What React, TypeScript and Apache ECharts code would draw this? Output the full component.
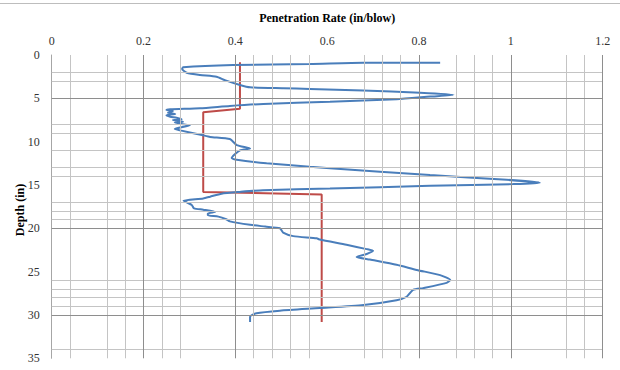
import React, { useEffect, useRef } from "react";
import * as echarts from "echarts";

// Measured penetration rate (in/blow) vs depth (in)
const rateDepth = [
  0.89, 0.89, 1.04, 1.15, 1.42, 1.62, 2.04, 2.3, 2.5, 2.9, 3.46, 3.73, 3.84, 3.92, 4.1, 4.35, 4.6,
  4.8, 5.1, 5.39, 5.65, 5.88, 6.15, 6.27, 6.35, 6.46, 6.66, 6.8, 6.96, 7.12, 7.23, 7.42, 7.5, 7.7,
  7.8, 7.96, 8.12, 8.54, 8.7, 9.23, 9.45, 9.7, 10.4, 10.8, 11.0, 11.9, 12.1, 12.5, 12.9, 13.07,
  13.85, 14.4, 14.73, 14.9, 15.1, 15.4, 15.6, 15.8, 16.0, 16.35, 16.55, 16.8, 17.0, 17.3, 17.7,
  17.85, 18.1, 18.3, 18.5, 18.65, 18.95, 19.2, 19.6, 19.8, 20.0, 20.5, 20.9, 21.15, 21.3, 21.9,
  22.4, 22.6, 22.96, 23.3, 23.6, 24.2, 24.8, 25.4, 25.96, 26.3, 26.9, 27.1, 27.9, 28.3, 28.85,
  29.2, 29.5, 29.8, 30.2, 30.8,
];
const rateValue = [
  0.846, 0.678, 0.563, 0.395, 0.286, 0.284, 0.294, 0.323, 0.359, 0.377, 0.41, 0.432, 0.504, 0.562,
  0.678, 0.802, 0.875, 0.824, 0.751, 0.606, 0.461, 0.388, 0.323, 0.258, 0.25, 0.264, 0.253, 0.269,
  0.25, 0.258, 0.272, 0.283, 0.264, 0.286, 0.268, 0.283, 0.301, 0.268, 0.28, 0.327, 0.345, 0.388,
  0.403, 0.432, 0.41, 0.392, 0.403, 0.468, 0.562, 0.606, 0.824, 0.991, 1.063, 1.005, 0.824, 0.606,
  0.46, 0.41, 0.37, 0.345, 0.33, 0.287, 0.294, 0.305, 0.31, 0.33, 0.356, 0.34, 0.34, 0.363, 0.38,
  0.388, 0.432, 0.465, 0.497, 0.504, 0.526, 0.577, 0.584, 0.642, 0.686, 0.7, 0.686, 0.664, 0.693,
  0.751, 0.795, 0.846, 0.868, 0.86, 0.809, 0.787, 0.773, 0.751, 0.679, 0.584, 0.497, 0.446, 0.432,
  0.432,
];

// Average rate per layer (step line)
const avgDepth = [0.85, 6.2, 6.6, 15.8, 16.1, 30.8];
const avgValue = [0.41, 0.41, 0.33, 0.33, 0.588, 0.588];

// Gridlines as drawn in the reference
const xMajorLines = [0.2, 0.4, 0.8, 1.0, 1.2];
const xMinorLines = [0.04, 0.12, 0.16, 0.24, 0.28, 0.44, 0.48, 0.52, 0.56, 0.68, 0.72, 0.76, 0.88, 0.92, 0.96, 1.12, 1.16];
const yMajorLines = [5, 20, 30];
const yMinorLines = [2, 3, 8, 9, 11, 13, 14, 17, 18, 19, 26, 27, 28, 29, 34];

const SERIF = "'Liberation Serif', 'DejaVu Serif', serif";

function gridSeries(name: string, xs: number[], ys: number[], color: string) {
  return {
    name,
    type: "line",
    data: [],
    silent: true,
    z: 1,
    markLine: {
      silent: true,
      symbol: ["none", "none"],
      label: { show: false },
      emphasis: { disabled: true },
      lineStyle: { color, width: 1, type: "solid" },
      data: [...xs.map((v) => ({ xAxis: v })), ...ys.map((v) => ({ yAxis: v }))],
    },
  };
}

export default function App() {
  const ref = useRef<HTMLDivElement>(null);
  useEffect(() => {
    if (!ref.current) return;
    const chart = echarts.init(ref.current, null, { renderer: "svg" });
    chart.setOption({
      animation: false,
      backgroundColor: "#ffffff",
      graphic: [
        {
          type: "line",
          shape: { x1: 0, y1: 3.5, x2: 620, y2: 3.5 },
          style: { stroke: "#bdbdbd", lineWidth: 1 },
        },
        {
          type: "text",
          x: 20,
          y: 210,
          rotation: Math.PI / 2,
          style: {
            text: "Depth (in)",
            font: "bold 12px 'Liberation Serif', 'DejaVu Serif', serif",
            fill: "#000",
            align: "center",
            verticalAlign: "middle",
          },
        },
      ],
      grid: { left: 51.7, right: 17.3, top: 55, bottom: 11.7 },
      xAxis: {
        type: "value",
        position: "top",
        min: 0,
        max: 1.2,
        interval: 0.2,
        name: "Penetration Rate (in/blow)",
        nameLocation: "middle",
        nameGap: 31,
        nameTextStyle: { fontFamily: SERIF, fontWeight: "bold", fontSize: 12, color: "#000" },
        axisLine: { show: false },
        axisTick: { show: false },
        splitLine: { show: false },
        axisLabel: { fontFamily: SERIF, fontSize: 12, color: "#333", margin: 8 },
      },
      yAxis: {
        type: "value",
        inverse: true,
        min: 0,
        max: 35,
        interval: 5,
        axisLine: { show: true, lineStyle: { color: "#a6a6a6", width: 1 } },
        axisTick: { show: false },
        splitLine: { show: false },
        axisLabel: { fontFamily: SERIF, fontSize: 12, color: "#333", margin: 12 },
      },
      series: [
        gridSeries("minorGrid", xMinorLines, yMinorLines, "#c4c4c4"),
        gridSeries("majorGrid", xMajorLines, yMajorLines, "#8e8e8e"),
        {
          name: "Average",
          type: "line",
          z: 3,
          symbol: "none",
          lineStyle: { color: "#be4b48", width: 2 },
          data: avgDepth.map((d, i) => [avgValue[i], d]),
        },
        {
          name: "Rate",
          type: "line",
          z: 4,
          symbol: "none",
          smooth: 0.2,
          lineStyle: { color: "#4a7ebb", width: 2 },
          data: rateDepth.map((d, i) => [rateValue[i], d]),
        },
      ],
    });
    return () => chart.dispose();
  }, []);
  return <div ref={ref} style={{ width: 620, height: 370, position: "absolute", left: 0, top: 0 }} />;
}
